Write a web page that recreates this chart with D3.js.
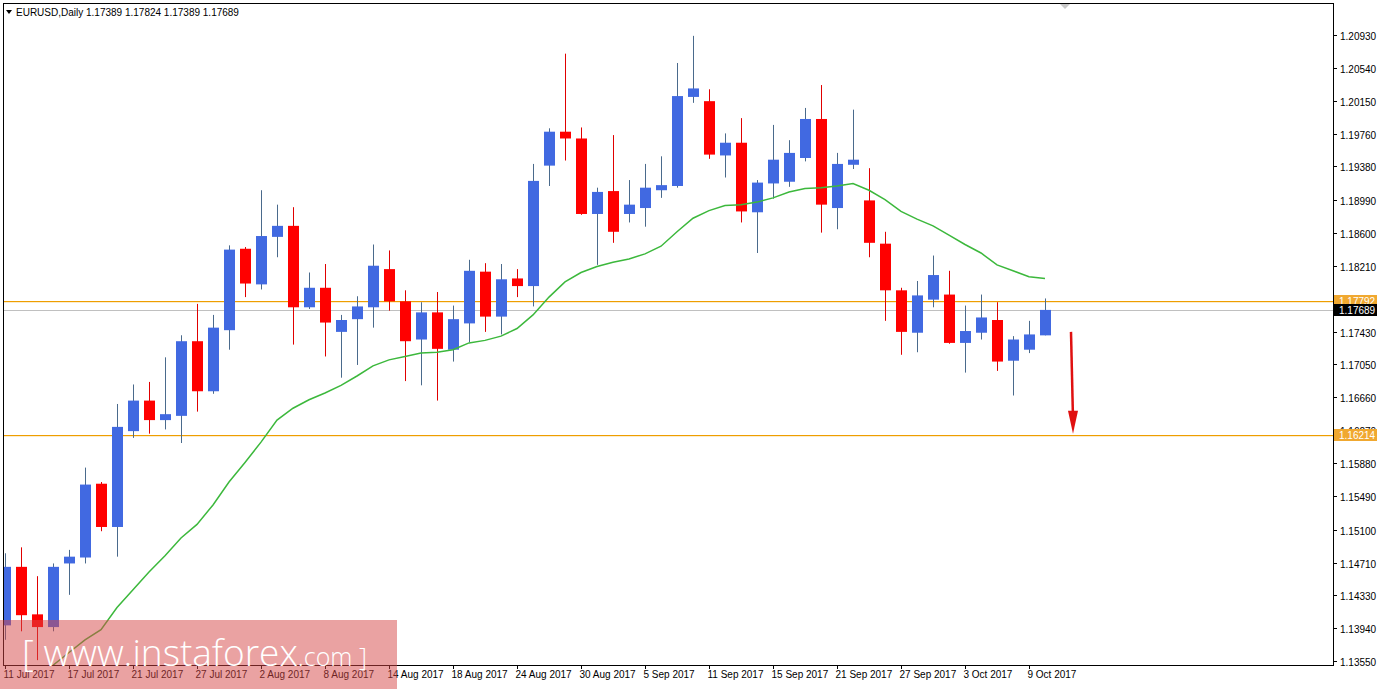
<!DOCTYPE html>
<html><head><meta charset="utf-8">
<script src="https://cdn.jsdelivr.net/npm/d3@7"></script>
<style>body{margin:0;background:#fff;}svg{display:block;font-family:"Liberation Sans",Arial,sans-serif;}</style>
</head><body><svg id="c" width="1377" height="689"></svg>
<script>
const opens=[1.1397,1.1466,1.1410,1.1395,1.1470,1.1477,1.1564,1.1513,1.1626,1.1662,1.1639,1.1644,1.1732,1.1673,1.1745,1.1841,1.1799,1.1855,1.1868,1.1772,1.1795,1.1743,1.1758,1.1772,1.1817,1.1779,1.1734,1.1766,1.1722,1.1753,1.1814,1.1761,1.1806,1.1797,1.1939,1.1979,1.1971,1.1882,1.1909,1.1882,1.1889,1.1910,1.1915,1.2020,1.2015,1.1951,1.1966,1.1884,1.1918,1.1920,1.1948,1.1994,1.1889,1.1940,1.1898,1.1847,1.1792,1.1742,1.1781,1.1787,1.1730,1.1742,1.1757,1.1709,1.1722,1.17389];
const highs=[1.1482,1.1489,1.1455,1.1470,1.1486,1.1583,1.1566,1.1658,1.1681,1.1684,1.1713,1.1739,1.1776,1.1763,1.1845,1.1843,1.1910,1.1893,1.1890,1.1813,1.1823,1.1763,1.1785,1.1846,1.1839,1.1792,1.1778,1.1790,1.1774,1.1828,1.1824,1.1823,1.1817,1.1941,1.1983,1.2071,1.1984,1.1913,1.1975,1.1922,1.1941,1.1950,1.2060,1.2092,1.2029,1.1977,1.1995,1.1922,1.1987,1.1969,1.2007,1.2034,1.1954,1.2005,1.1936,1.1861,1.1795,1.1803,1.1833,1.1815,1.1774,1.1787,1.1778,1.1738,1.1756,1.17824];
const lows=[1.1380,1.1390,1.1356,1.1390,1.1433,1.1470,1.1508,1.1478,1.1618,1.1623,1.1628,1.1612,1.1649,1.1670,1.1722,1.1784,1.1793,1.1831,1.1728,1.1770,1.1714,1.1689,1.1704,1.1748,1.1768,1.1685,1.1680,1.1662,1.1708,1.1731,1.1743,1.1740,1.1784,1.1773,1.1915,1.1945,1.1881,1.1822,1.1848,1.1872,1.1867,1.1901,1.1913,1.2013,1.1947,1.1925,1.1872,1.1836,1.1900,1.1914,1.1944,1.1860,1.1864,1.1935,1.1831,1.1756,1.1716,1.1719,1.1772,1.1729,1.1695,1.1734,1.1697,1.1668,1.1718,1.17389];
const closes=[1.1466,1.1409,1.1395,1.1466,1.1478,1.1563,1.1513,1.1631,1.1662,1.1639,1.1646,1.1732,1.1673,1.1748,1.1840,1.1800,1.1856,1.1868,1.1772,1.1795,1.1754,1.1757,1.1773,1.1821,1.1779,1.1732,1.1766,1.1723,1.1758,1.1815,1.1761,1.1805,1.1797,1.1921,1.1979,1.1971,1.1882,1.1908,1.1861,1.1893,1.1913,1.1916,1.2021,1.2030,1.1952,1.1966,1.1885,1.1919,1.1946,1.1954,1.1994,1.1893,1.1941,1.1946,1.1848,1.1792,1.1743,1.1786,1.1810,1.1730,1.1744,1.1760,1.1708,1.1734,1.1740,1.17689];
const maValues=[null,null,null,1.1350,1.1365,1.1380,1.1392,1.1418,1.1439,1.1460,1.1479,1.1500,1.1516,1.1539,1.1566,1.1589,1.1613,1.1639,1.1653,1.1663,1.1671,1.1680,1.1691,1.1703,1.1710,1.1714,1.1718,1.1719,1.1722,1.1730,1.1733,1.1738,1.1747,1.1763,1.1784,1.1802,1.1813,1.1820,1.1825,1.1829,1.1835,1.1844,1.1861,1.1877,1.1886,1.1892,1.1893,1.1896,1.1901,1.1908,1.1912,1.1913,1.1915,1.1918,1.1910,1.1899,1.1885,1.1876,1.1868,1.1857,1.1846,1.1836,1.1822,1.1815,1.1808,1.1806];
const priceTicks=["1.20930","1.20540","1.20150","1.19760","1.19380","1.18990","1.18600","1.18210","1.17430","1.17050","1.16660","1.16270","1.15880","1.15490","1.15100","1.14710","1.14330","1.13940","1.13550"];
const dateLabels=[[0,"11 Jul 2017"],[4,"17 Jul 2017"],[8,"21 Jul 2017"],[12,"27 Jul 2017"],[16,"2 Aug 2017"],[20,"8 Aug 2017"],[24,"14 Aug 2017"],[28,"18 Aug 2017"],[32,"24 Aug 2017"],[36,"30 Aug 2017"],[40,"5 Sep 2017"],[44,"11 Sep 2017"],[48,"15 Sep 2017"],[52,"21 Sep 2017"],[56,"27 Sep 2017"],[60,"3 Oct 2017"],[64,"9 Oct 2017"]];
const levels=["1.17792","1.16214"];
const lastPrice="1.17689";

const svg=d3.select("#c");
const L=3,R=1333,T=3,B=665;
const y=d3.scaleLinear().domain([1.13550,1.20930]).range([661,35]);
const x=d3.scaleLinear().domain([0,1]).range([5,21]);
svg.append("defs").append("clipPath").attr("id","cp").append("rect").attr("x",L+1).attr("y",T+1).attr("width",R-L-1).attr("height",B-T-1);
const plot=svg.append("g").attr("clip-path","url(#cp)");

plot.append("rect").attr("x",L).attr("width",R-L).attr("y",Math.round(y(+lastPrice))).attr("height",1).attr("fill","#C0C0C0");
levels.forEach(v=>plot.append("rect").attr("x",L).attr("width",R-L).attr("y",Math.round(y(+v))).attr("height",1.2).attr("fill","#EE9E00"));

d3.range(opens.length).forEach(i=>{
  const up=closes[i]>=opens[i];
  const col=up?"#4169E1":"#FF0000";
  const cx=Math.round(x(i))+0.5;
  plot.append("line").attr("x1",cx).attr("x2",cx).attr("y1",y(highs[i])).attr("y2",y(lows[i])).attr("stroke",up?"#4A6A8C":"#E00000").attr("stroke-width",1);
  const t=y(Math.max(opens[i],closes[i])),b=y(Math.min(opens[i],closes[i]));
  plot.append("rect").attr("x",cx-5.5).attr("y",t).attr("width",11).attr("height",Math.max(1.5,b-t)).attr("fill",col);
});
plot.append("path").datum(maValues).attr("d",d3.line().defined(d=>d!=null).x((d,i)=>x(i)).y(d=>y(d))).attr("fill","none").attr("stroke","#3CB83C").attr("stroke-width",1.5);

const ax=1071;
plot.append("line").attr("x1",ax).attr("y1",y(1.1743)).attr("x2",ax+2).attr("y2",y(1.1640)).attr("stroke","#E01010").attr("stroke-width",2.5);
plot.append("path").attr("d",`M${ax-3},${y(1.1650)} L${ax+2},${y(1.1623)} L${ax+7},${y(1.1650)} Z`).attr("fill","#E01010");

svg.append("rect").attr("x",L+0.5).attr("y",T+0.5).attr("width",R-L).attr("height",B-T).attr("fill","none").attr("stroke","#000");
svg.append("path").attr("d","M1060,4 L1070,4 L1065,9 Z").attr("fill","#C8C8C8");

const fs=10;
priceTicks.forEach(v=>{
  const yy=Math.round(y(+v))+0.5;
  svg.append("line").attr("x1",R).attr("x2",R+4).attr("y1",yy).attr("y2",yy).attr("stroke","#000");
  svg.append("text").attr("x",R+7).attr("y",yy+4).attr("font-size",fs).attr("fill","#000").text(v);
});
function tag(v,bg){
  const yy=Math.round(y(+v));
  svg.append("rect").attr("x",R+1).attr("y",yy-6).attr("width",43).attr("height",12).attr("fill",bg);
  svg.append("text").attr("x",R+6).attr("y",yy+4).attr("font-size",fs).attr("fill","#fff").text(v);
}
tag(levels[0],"#F0A830");tag(levels[1],"#F0A830");tag(lastPrice,"#000");

dateLabels.forEach(([i,s])=>{
  const xx=Math.round(x(i))+0.5;
  svg.append("line").attr("x1",xx).attr("x2",xx).attr("y1",B).attr("y2",B+4).attr("stroke","#000");
  svg.append("text").attr("x",xx-2).attr("y",B+13).attr("font-size",fs).attr("fill","#000").text(s);
});

svg.append("path").attr("d","M6,10 L12,10 L9,14 Z").attr("fill","#000");
svg.append("text").attr("x",16).attr("y",16).attr("font-size",fs).attr("fill","#000").text("EURUSD,Daily  1.17389 1.17824 1.17389 1.17689");

svg.append("rect").attr("x",0).attr("y",620).attr("width",397).attr("height",69).attr("fill","rgba(214,70,70,0.5)");
const wm=svg.append("text").attr("x",22).attr("y",666).attr("fill","#fff").attr("font-family","'Open Sans',sans-serif");
wm.append("tspan").attr("font-size",37).attr("font-weight",300).text("[ www.instaforex");
wm.append("tspan").attr("font-size",25).attr("font-weight",300).text(".com ]");
</script></body></html>
